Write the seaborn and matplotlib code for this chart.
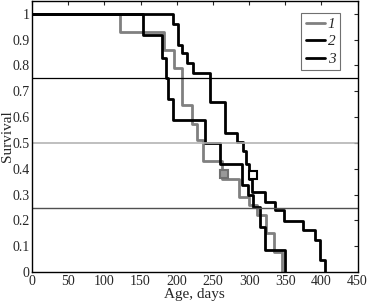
import matplotlib
matplotlib.use("Agg")
import matplotlib.pyplot as plt
import numpy as np
import pandas as pd
import seaborn as sns

# survival step data (time of drop, survival after drop)
t1 = [0, 122, 182, 196, 207, 221, 228, 236, 262, 286, 300, 311, 324, 334, 345]
s1 = [1, .93, .86, .79, .645, .575, .51, .43, .36, .29, .26, .22, .15, .078, 0]

t2 = [0, 153, 180, 185, 188, 195, 239, 260, 290, 299, 306, 315, 322, 350]
s2 = [1, .918, .83, .75, .67, .59, .50, .42, .336, .30, .253, .176, .085, 0]

t3 = [0, 195, 202, 207, 214, 222, 246, 267, 283, 292, 296, 300, 304,
      322, 336, 348, 375, 391, 398, 405]
s3 = [1, .96, .88, .85, .81, .77, .657, .54, .503, .47, .42, .36, .31,
      .27, .24, .198, .162, .124, .046, 0]

# censoring marks (small squares)
cens_t = [266, 306]
cens_s = [0.38, 0.375]

groups = ["1", "2", "3"]
df = pd.concat([
    pd.DataFrame({"Age": t1, "Survival": s1, "group": "1"}),
    pd.DataFrame({"Age": t2, "Survival": s2, "group": "2"}),
    pd.DataFrame({"Age": t3, "Survival": s3, "group": "3"}),
])

sns.set_style("white")
plt.rcParams["font.family"] = ["Liberation Serif", "DejaVu Serif"]

fig = plt.figure(figsize=(3.69, 3.05), dpi=100)
ax = fig.add_axes([0.087, 0.108, 0.882, 0.889])

palette = {"1": "#808080", "2": "black", "3": "black"}
sns.lineplot(data=df, x="Age", y="Survival", hue="group", palette=palette,
             estimator=None, drawstyle="steps-post", linewidth=2.0,
             legend=False, ax=ax)

ax.plot(cens_t[0], cens_s[0], marker="s", markersize=6, mfc="#999999",
        mec="#707070", mew=1.5, ls="none")
ax.plot(cens_t[1], cens_s[1], marker="s", markersize=6, mfc="white",
        mec="black", mew=1.5, ls="none")

ax.axhline(0.75, color="black", lw=0.9)
ax.axhline(0.5, color="#b4b4b4", lw=1.2)
ax.axhline(0.25, color="#505050", lw=1.0)

ax.set_xlim(0, 450)
ax.set_ylim(0, 1.05)
ax.set_xticks(np.arange(0, 451, 50))
ax.set_yticks(np.arange(0, 1.01, 0.1))
ax.set_yticklabels(["0"] + [f"{v:.1f}" for v in np.arange(0.1, 0.95, 0.1)] + ["1"])
ax.tick_params(direction="in", length=3, width=0.8, labelsize=10,
               top=True, right=True, pad=2)
for sp in ax.spines.values():
    sp.set_color("black")
    sp.set_linewidth(1.0)

ax.set_xlabel("Age, days", fontsize=11, labelpad=0)
ax.set_ylabel("Survival", fontsize=11)
ax.yaxis.set_label_coords(-0.056, 0.5)

handles = ax.lines[:3]
leg = ax.legend(handles, groups, loc="upper right", bbox_to_anchor=(0.946, 0.957),
                borderaxespad=0, fancybox=False, edgecolor="#707070", framealpha=1,
                handlelength=1.25, handletextpad=0.2, borderpad=0.3,
                labelspacing=0.25, prop={"style": "italic", "size": 11})
leg.get_frame().set_linewidth(0.8)

fig.savefig("out.png", dpi=100)
